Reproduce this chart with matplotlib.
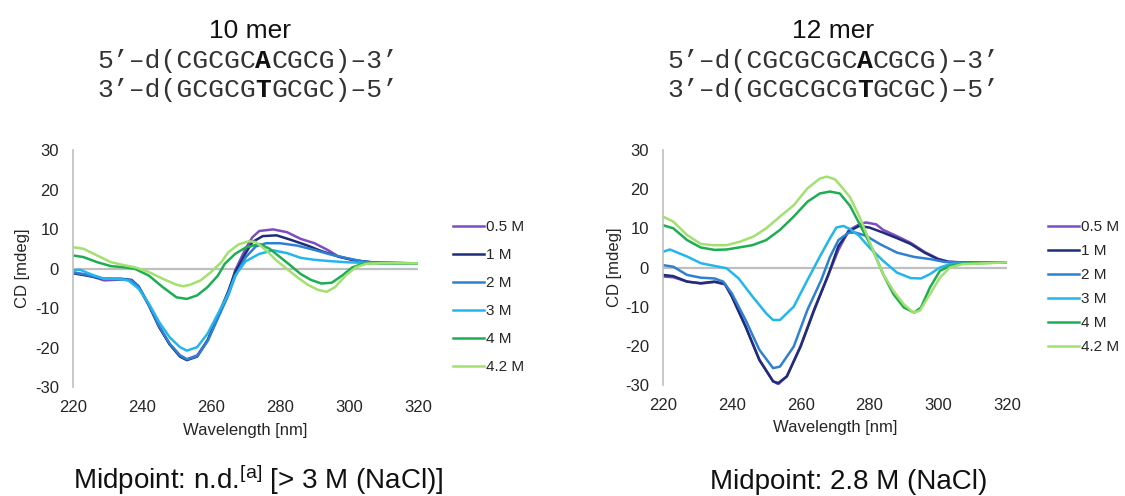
import matplotlib
matplotlib.use('Agg')
import matplotlib.pyplot as plt
from matplotlib.transforms import offset_copy

plt.rcParams['font.family'] = ['Liberation Sans', 'DejaVu Sans']
plt.rcParams['mathtext.fontset'] = 'custom'
plt.rcParams['mathtext.rm'] = 'Liberation Sans'
plt.rcParams['mathtext.default'] = 'regular'
plt.rcParams['axes.unicode_minus'] = False

labels = ['0.5 M', '1 M', '2 M', '3 M', '4 M', '4.2 M']
colors = ['#7E4CC2', '#1F2D78', '#2E80D2', '#22B6EE', '#1DAE52', '#A2E070']

# 10 mer, CD spectra at each NaCl concentration
wl10_05 = [220, 224, 229, 234, 237, 239, 242, 245, 248, 251, 253, 256, 259, 262, 265, 267, 270, 272, 274, 278, 282, 286, 290, 294, 297, 301, 305, 309, 320]
cd10_05 = [-1.0, -1.6, -3.0, -2.8, -3.0, -4.7, -9.4, -14.9, -19.1, -22.0, -23.0, -22.0, -18.2, -12.3, -6.4, -0.5, 5.0, 7.9, 9.5, 9.9, 9.2, 7.5, 6.4, 4.6, 3.0, 2.2, 1.7, 1.4, 1.3]
wl10_1 = [220, 224, 229, 234, 237, 239, 242, 245, 248, 251, 253, 256, 259, 262, 265, 267, 270, 272, 275, 279, 283, 288, 292, 297, 302, 307, 320]
cd10_1 = [-1.2, -1.8, -2.6, -2.6, -2.9, -4.5, -9.2, -14.8, -19.2, -22.3, -23.2, -22.3, -18.2, -12.0, -5.8, -1.0, 3.8, 6.7, 8.2, 8.4, 7.3, 5.8, 4.4, 3.0, 2.0, 1.5, 1.3]
wl10_2 = [220, 224, 229, 234, 237, 239, 242, 245, 248, 251, 253, 256, 259, 262, 265, 267, 270, 273, 276, 280, 285, 290, 294, 299, 304, 309, 320]
cd10_2 = [-1.0, -1.6, -2.6, -2.7, -3.0, -4.6, -9.2, -14.6, -19.0, -22.0, -23.0, -22.2, -18.4, -12.6, -6.8, -2.0, 2.8, 5.6, 6.4, 6.4, 5.8, 4.7, 3.7, 2.7, 1.8, 1.4, 1.3]
wl10_3 = [220, 222, 225, 229, 233, 236, 239, 242, 245, 248, 251, 253, 256, 259, 262, 265, 267, 270, 274, 278, 282, 286, 290, 294, 299, 305, 320]
cd10_3 = [-0.5, -0.3, -1.4, -2.6, -2.6, -3.0, -5.1, -8.9, -13.6, -17.4, -19.9, -20.8, -19.9, -16.5, -11.5, -6.4, -1.8, 1.8, 3.7, 4.6, 3.9, 2.7, 2.2, 1.9, 1.6, 1.4, 1.3]
wl10_4 = [220, 223, 227, 231, 235, 238, 242, 246, 250, 253, 256, 259, 262, 264, 267, 270, 274, 277, 280, 283, 286, 289, 292, 295, 298, 301, 304, 307, 320]
cd10_4 = [3.3, 2.9, 1.6, 0.6, 0.3, -0.1, -1.8, -4.7, -7.3, -7.7, -6.8, -4.7, -1.8, 1.2, 3.7, 5.3, 6.2, 5.0, 2.9, 0.8, -1.4, -2.9, -3.8, -3.6, -1.8, 0.3, 1.2, 1.35, 1.3]
wl10_42 = [220, 223, 227, 231, 235, 238, 242, 246, 250, 252, 254, 257, 260, 263, 265, 268, 271, 273, 276, 279, 282, 285, 288, 291, 293.5, 296, 299, 302, 305, 309, 320]
cd10_42 = [5.4, 5.0, 3.3, 1.6, 0.8, 0.3, -0.9, -2.6, -4.1, -4.5, -4.1, -3.0, -0.9, 1.6, 4.1, 6.1, 6.9, 6.7, 4.6, 2.0, -0.1, -2.2, -4.1, -5.4, -5.9, -4.7, -1.8, 0.3, 1.2, 1.35, 1.3]

# 12 mer, CD spectra at each NaCl concentration
wl12_05 = [220, 223, 227, 231, 235, 238, 240, 244, 248, 252, 253.5, 256, 260, 264, 268, 271, 274, 277, 279, 282, 284, 288, 292, 296, 300, 303, 307, 320]
cd12_05 = [-2.3, -2.5, -3.6, -4.1, -3.7, -4.3, -7.3, -15.0, -23.5, -29.0, -29.8, -27.8, -20.0, -10.5, -2.0, 4.5, 9.5, 11.0, 11.5, 11.0, 9.6, 8.0, 6.3, 4.0, 2.2, 1.5, 1.3, 1.3]
wl12_1 = [220, 223, 227, 231, 235, 238, 240, 244, 248, 252, 253.5, 256, 260, 264, 268, 271, 274, 277, 280, 284, 288, 292, 296, 300, 303, 307, 320]
cd12_1 = [-1.9, -2.2, -3.6, -4.0, -3.6, -4.2, -7.4, -15.1, -23.6, -29.1, -29.5, -27.8, -20.2, -10.8, -2.0, 5.5, 9.2, 10.6, 10.2, 8.9, 7.5, 6.0, 3.8, 2.1, 1.4, 1.3, 1.3]
wl12_2 = [220, 223, 227, 231, 235, 237.5, 240, 244, 248, 252, 254, 258, 262, 266, 268.5, 271, 274, 276, 279, 283, 288, 293, 298, 302, 307, 320]
cd12_2 = [0.6, 0.2, -1.9, -2.6, -2.8, -3.6, -6.6, -13.4, -21.0, -25.7, -25.3, -20.2, -10.8, -3.2, 2.6, 7.0, 8.9, 8.9, 8.1, 6.0, 3.8, 2.7, 2.1, 1.4, 1.3, 1.3]
wl12_3 = [220, 222, 227, 231, 235, 238.5, 242, 246, 250, 252, 254, 258, 262, 265.6, 268.5, 270.4, 272.4, 274.4, 277, 280, 284, 288, 292, 295, 297.6, 300.5, 303.4, 307, 320]
cd12_3 = [4.0, 4.6, 2.8, 1.1, 0.4, -0.2, -2.8, -7.4, -11.7, -13.4, -13.4, -10.0, -3.2, 2.8, 7.4, 10.2, 10.6, 9.8, 8.1, 5.1, 1.7, -1.3, -2.7, -2.8, -1.7, 0.0, 0.85, 1.1, 1.3]
wl12_4 = [220, 223, 227, 231, 235, 238.5, 242, 246, 250, 254, 258, 262, 265.6, 268.5, 271.4, 274.4, 277.2, 279.2, 281.1, 284, 287, 290, 293, 295, 297.6, 300.5, 303.4, 307, 320]
cd12_4 = [10.8, 10.0, 7.0, 5.1, 4.5, 4.6, 5.1, 5.7, 7.0, 9.6, 13.0, 16.8, 18.9, 19.4, 18.9, 15.7, 11.0, 7.7, 4.3, -1.7, -6.8, -10.2, -11.5, -10.2, -5.1, -0.85, 0.4, 1.0, 1.3]
wl12_42 = [220, 223, 227, 231, 234.6, 238.5, 242.4, 246.3, 250, 254, 258, 262, 265.6, 267.6, 270, 272, 274.4, 277.2, 279.2, 281.1, 284, 287, 290, 292.8, 294.7, 297.6, 300.5, 303.4, 307, 320]
cd12_42 = [13.0, 11.7, 8.3, 6.0, 5.7, 5.7, 6.6, 7.9, 10.0, 13.0, 15.9, 20.2, 22.7, 23.2, 22.5, 20.5, 17.9, 12.8, 8.5, 4.3, -1.7, -6.0, -9.4, -11.5, -11.0, -6.8, -2.6, 0.0, 0.85, 1.3]

W, H = 1125, 496
fig = plt.figure(figsize=(W / 100, H / 100), dpi=100)
grey = '#BFBFBF'
ink = '#262626'


def draw_panel(rect, wls, cds, leg_xy, leg_space, ylab_x):
    ax = fig.add_axes(rect)
    ax.axhline(0, color=grey, lw=1.6, zorder=1)
    for wl, cd, c, lab in zip(wls, cds, colors, labels):
        ax.plot(wl, cd, color=c, lw=1.8, label=lab, zorder=2)
    ax.set_xlim(220, 320)
    ax.set_ylim(-30, 30)
    ax.set_xticks(range(220, 321, 20))
    ax.set_yticks(range(-30, 31, 10))
    for s in ['top', 'right', 'bottom']:
        ax.spines[s].set_visible(False)
    ax.spines['left'].set_color(grey)
    ax.spines['left'].set_linewidth(1.2)
    ax.tick_params(axis='both', length=0, labelsize=12, labelcolor=ink)
    ax.tick_params(axis='x', pad=9)
    ax.tick_params(axis='y', pad=10)
    ax.set_xlabel('Wavelength [nm]', fontsize=12, color=ink)
    ax.set_ylabel('CD [mdeg]', fontsize=12, color=ink)
    ax.xaxis.set_label_coords(0.5, -0.15)
    ax.yaxis.set_label_coords(ylab_x, 0.5)
    ax.legend(loc='upper left', bbox_to_anchor=leg_xy, bbox_transform=fig.transFigure,
              frameon=False, fontsize=11, handlelength=2.0, handletextpad=0.15,
              labelspacing=leg_space, borderpad=0, borderaxespad=0, labelcolor=ink)
    return ax


draw_panel([73 / W, 1 - 387 / H, 345 / W, 237 / H],
           [wl10_05, wl10_1, wl10_2, wl10_3, wl10_4, wl10_42],
           [cd10_05, cd10_1, cd10_2, cd10_3, cd10_4, cd10_42],
           (453 / W, 1 - 220 / H), 0.92, -0.125)
draw_panel([663 / W, 1 - 385 / H, 344 / W, 235 / H],
           [wl12_05, wl12_1, wl12_2, wl12_3, wl12_4, wl12_42],
           [cd12_05, cd12_1, cd12_2, cd12_3, cd12_4, cd12_42],
           (1048 / W, 1 - 220 / H), 0.66, -0.119)

mono = ['Liberation Mono', 'DejaVu Sans Mono']
seq_size = 19
char_w = 0.6 * seq_size  # monospace advance, points


def seq_line(x_px, y_px, s, bold_idx):
    # prefix, highlighted base, suffix laid out on the monospace grid
    parts = [(s[:bold_idx], 0, 'normal', '#333333'),
             (s[bold_idx], bold_idx, 'bold', '#111111'),
             (s[bold_idx + 1:], bold_idx + 1, 'normal', '#333333')]
    for txt, pos, weight, col in parts:
        tr = offset_copy(fig.transFigure, fig=fig, x=pos * char_w, y=0, units='points')
        fig.text(x_px / W, 1 - y_px / H, txt, transform=tr, family=mono,
                 fontsize=seq_size, fontweight=weight, ha='left', va='baseline', color=col)


fig.text(250 / W, 1 - 38 / H, '10 mer', ha='center', va='baseline', fontsize=19, color='#111111')
seq_line(97, 68, '5’–d(CGCGCACGCG)–3’', 10)
seq_line(97, 97, '3’–d(GCGCGTGCGC)–5’', 10)

fig.text(833 / W, 1 - 38 / H, '12 mer', ha='center', va='baseline', fontsize=19, color='#111111')
seq_line(667, 68, '5’–d(CGCGCGCACGCG)–3’', 12)
seq_line(667, 97, '3’–d(GCGCGCGTGCGC)–5’', 12)

fig.text(73 / W, 1 - 489 / H, r'Midpoint: n.d.$^{[a]}$ [> 3 M (NaCl)]', fontsize=20,
         ha='left', va='baseline', color='#111111')
fig.text(710 / W, 1 - 489 / H, 'Midpoint: 2.8 M (NaCl)', fontsize=20,
         ha='left', va='baseline', color='#111111')

fig.savefig('out.png', dpi=100)
